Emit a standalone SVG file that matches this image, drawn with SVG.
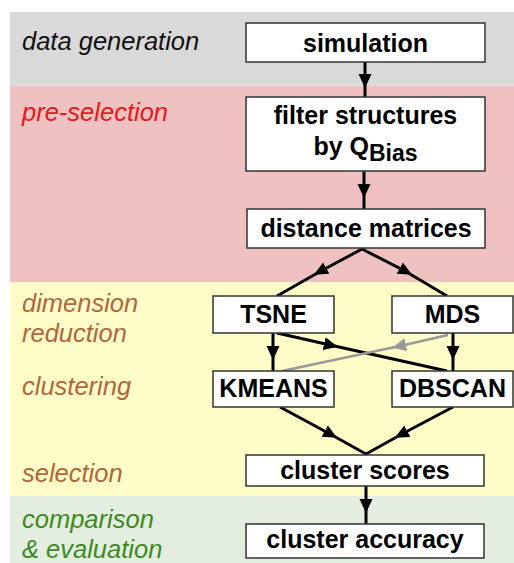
<svg xmlns="http://www.w3.org/2000/svg" width="514" height="563" viewBox="0 0 514 563">
<defs>
<style>
.box{fill:#fff;stroke:#333;stroke-width:1.5}
.nt{font-family:"Liberation Sans",Arial,sans-serif;font-weight:bold;font-size:25px;fill:#000;text-anchor:middle}
.lb{font-family:"Liberation Sans",Arial,sans-serif;font-style:italic;font-size:25.5px}
.c{fill:none;stroke:#000;stroke-width:3;marker-mid:url(#ah)}
.g{fill:none;stroke:#999;stroke-width:2.5;marker-mid:url(#ahg)}
</style>
<marker id="ah" markerUnits="userSpaceOnUse" markerWidth="14" markerHeight="14" refX="6" refY="6.5" orient="auto" viewBox="0 0 14 13"><path d="M0,0 L14,6.5 L0,13 z" fill="#000"/></marker>
<marker id="ahg" markerUnits="userSpaceOnUse" markerWidth="14" markerHeight="14" refX="6" refY="6.5" orient="auto" viewBox="0 0 14 13"><path d="M0,0 L14,6.5 L0,13 z" fill="#999"/></marker>
</defs>
<g id="bands">
<rect x="10" y="12" width="504" height="74" fill="#d9d9d9"/>
<rect x="10" y="86" width="504" height="196" fill="#efc1c1"/>
<rect x="10" y="282" width="504" height="214" fill="#fefdc8"/>
<rect x="10" y="496" width="504" height="67" fill="#e3eee0"/>
</g>
<g id="labels">
<text class="lb" x="22" y="50" fill="#111">data generation</text>
<text class="lb" x="22" y="121" fill="#e31a1a">pre-selection</text>
<text class="lb" x="22" y="312" fill="#b5653a">dimension</text>
<text class="lb" x="22" y="342" fill="#b5653a">reduction</text>
<text class="lb" x="22" y="395" fill="#b5653a">clustering</text>
<text class="lb" x="22" y="482" fill="#b5653a">selection</text>
<text class="lb" x="22" y="528" fill="#3c8a20">comparison</text>
<text class="lb" x="22" y="558" fill="#3c8a20">&amp; evaluation</text>
</g>
<g id="connectors">
<polyline class="c" points="365,62 365,80 365,97"/>
<polyline class="c" points="364,171 364,190 364,209"/>
<polyline class="c" points="362,249 321,271 277,296"/>
<polyline class="c" points="362,249 405,271 447,296"/>
<polyline class="c" points="273,333 273,352 273,371"/>
<polyline class="c" points="453,333 453,352 453,371"/>
<polyline class="c" points="277,333 330,345 447,371"/>
<polyline class="g" points="448,335 400,346 282,371"/>
<polyline class="c" points="280,407 330,434 366,454"/>
<polyline class="c" points="453,407 402,434 366,454"/>
<polyline class="c" points="366,486 366,505 366,524"/>
</g>
<g id="simulation"><rect class="box" x="246" y="23" width="239" height="39"/><text class="nt" x="365.5" y="52">simulation</text></g>
<g id="filter"><rect class="box" x="246" y="97" width="239" height="74"/><text class="nt" x="365.5" y="124">filter structures</text><text class="nt" x="365.5" y="155">by Q<tspan font-size="23" dy="6">Bias</tspan></text></g>
<g id="distance"><rect class="box" x="247" y="209" width="238" height="39"/><text class="nt" x="366" y="237">distance matrices</text></g>
<g id="tsne"><rect class="box" x="213" y="296" width="121" height="37"/><text class="nt" x="273.5" y="323">TSNE</text></g>
<g id="mds"><rect class="box" x="392" y="296" width="121" height="37"/><text class="nt" x="452.5" y="323">MDS</text></g>
<g id="kmeans"><rect class="box" x="213" y="371" width="121" height="36"/><text class="nt" x="273.5" y="397">KMEANS</text></g>
<g id="dbscan"><rect class="box" x="392" y="371" width="121" height="36"/><text class="nt" x="452.5" y="397">DBSCAN</text></g>
<g id="scores"><rect class="box" x="246" y="455" width="238" height="31"/><text class="nt" x="365" y="479">cluster scores</text></g>
<g id="accuracy"><rect class="box" x="246" y="524" width="238" height="34"/><text class="nt" x="365" y="548">cluster accuracy</text></g>
</svg>
